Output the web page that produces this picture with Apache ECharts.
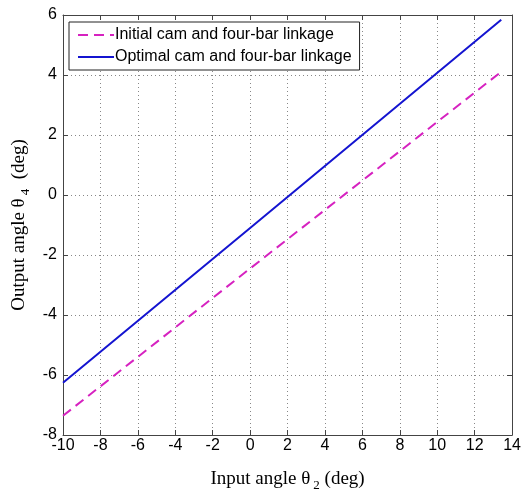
<!DOCTYPE html>
<html><head><meta charset="utf-8">
<script src="https://cdn.jsdelivr.net/npm/echarts@6/dist/echarts.min.js"></script>
<style>html,body{margin:0;padding:0;background:#fff}#c{width:524px;height:497px}</style>
</head><body><div id="c"></div>
<script>
var seriesNames = ['Initial cam and four-bar linkage', 'Optimal cam and four-bar linkage'];
var inputAngle = [-10, 0, 13.3];
var initialOut = [-7.36, -2.45, 4.05];
var optimalAngle = [-10, 0, 13.42];
var optimalOut = [-6.26, -1.1, 5.84];
var xTicks = {min: -10, max: 14, interval: 2};
var yTicks = {min: -8, max: 6, interval: 2};

var chart = echarts.init(document.getElementById('c'));
var font = '"Liberation Sans", Arial, sans-serif';
var serif = '"Liberation Serif", "Times New Roman", serif';
var axisLineStyle = {color: '#444', width: 1};
function pairs(xs, ys){ return xs.map(function(x,i){return [x, ys[i]];}); }
var nameRich = {
  a: {fontFamily: serif, fontSize: 19, color: '#000'},
  s: {fontFamily: serif, fontSize: 13, color: '#000', padding: [13, 0, 0, 3]}
};
chart.setOption({
  animation: false,
  grid: {left: 63, right: 10, top: 15, bottom: 47, containLabel: false},
  legend: {
    orient: 'vertical', left: 69, top: 22,
    padding: [5, 8, 5, 8], itemGap: 6,
    itemWidth: 36, itemHeight: 16,
    borderColor: '#222', borderWidth: 1, backgroundColor: '#fff',
    itemStyle: {opacity: 0},
    textStyle: {fontFamily: font, fontSize: 16, color: '#000', padding: [0, 0, 0, -4]},
    data: seriesNames
  },
  xAxis: [{
    type: 'value', min: xTicks.min, max: xTicks.max, interval: xTicks.interval,
    axisLine: {onZero: false, lineStyle: axisLineStyle},
    axisTick: {inside: true, length: 5, lineStyle: axisLineStyle},
    axisLabel: {fontFamily: font, fontSize: 16, color: '#000', margin: 3},
    splitLine: {show: true, lineStyle: {color: '#888', type: [1, 3], width: 1}},
    name: '{a|Input angle θ}{s|2}{a| (deg)}',
    nameLocation: 'middle', nameGap: 31,
    nameTextStyle: {rich: nameRich}
  }, {
    type: 'value', position: 'top', min: xTicks.min, max: xTicks.max, interval: xTicks.interval,
    axisLine: {onZero: false, lineStyle: axisLineStyle},
    axisTick: {inside: true, length: 5, lineStyle: axisLineStyle},
    axisLabel: {show: false}, splitLine: {show: false}
  }],
  yAxis: [{
    type: 'value', min: yTicks.min, max: yTicks.max, interval: yTicks.interval,
    axisLine: {show: true, onZero: false, lineStyle: axisLineStyle},
    axisTick: {show: true, inside: true, length: 5, lineStyle: axisLineStyle},
    axisLabel: {fontFamily: font, fontSize: 16, color: '#000', margin: 6},
    splitLine: {show: true, lineStyle: {color: '#888', type: [1, 3], width: 1}},
    name: '{a|Output angle θ}{s|4}{a|  (deg)}',
    nameLocation: 'middle', nameGap: 26, nameRotate: 90,
    nameTextStyle: {rich: nameRich}
  }, {
    type: 'value', position: 'right', min: yTicks.min, max: yTicks.max, interval: yTicks.interval,
    axisLine: {show: true, onZero: false, lineStyle: axisLineStyle},
    axisTick: {show: true, inside: true, length: 5, lineStyle: axisLineStyle},
    axisLabel: {show: false}, splitLine: {show: false}
  }],
  series: [{
    name: seriesNames[0], type: 'line', showSymbol: false, symbol: 'none',
    data: pairs(inputAngle, initialOut),
    lineStyle: {color: '#d622c0', width: 2, type: [10, 6]},
    itemStyle: {color: '#d622c0'}
  }, {
    name: seriesNames[1], type: 'line', showSymbol: false, symbol: 'none',
    data: pairs(optimalAngle, optimalOut),
    lineStyle: {color: '#1414d0', width: 2},
    itemStyle: {color: '#1414d0'}
  }]
});
</script></body></html>
